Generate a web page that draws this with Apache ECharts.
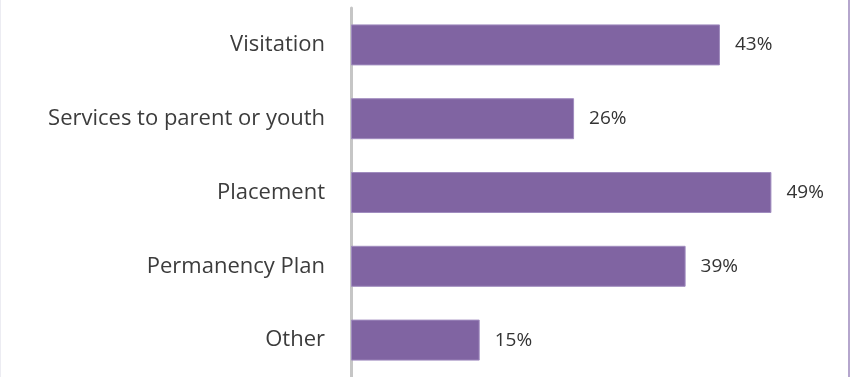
<!DOCTYPE html>
<html>
<head>
<meta charset="utf-8">
<script src="https://cdn.jsdelivr.net/npm/echarts@6/dist/echarts.min.js"></script>
<style>
  html, body { margin: 0; padding: 0; background: #ffffff; }
  #wrap { position: relative; width: 851px; height: 377px; overflow: hidden; }
  #chart { position: absolute; left: 0; top: 0; width: 851px; height: 377px; }
  #edgeL { position: absolute; left: 0; top: 0; width: 1px; height: 377px; background: #ececf2; }
  #edgeR { position: absolute; left: 848px; top: 0; width: 2px; height: 377px; background: #b5a6cd; }
</style>
</head>
<body>
<div id="wrap">
  <div id="chart"></div>
  <div id="edgeL"></div>
  <div id="edgeR"></div>
</div>
<script>
// Reasons cited, top to bottom
const categories = ['Visitation', 'Services to parent or youth', 'Placement', 'Permanency Plan', 'Other'];
const percents = [43, 26, 49, 39, 15];

const chart = echarts.init(document.getElementById('chart'), null, { renderer: 'canvas' });

chart.setOption({
  animation: false,
  grid: { left: 351, top: 8, width: 429, height: 375, containLabel: false },
  xAxis: {
    type: 'value',
    min: 0,
    max: 50,
    show: false
  },
  yAxis: {
    type: 'category',
    data: categories,
    inverse: true,
    axisLine: { show: true, lineStyle: { color: '#c6c6c6', width: 3 } },
    axisTick: { show: false },
    axisLabel: {
      margin: 26,
      color: '#3c3c3c',
      fontFamily: '"Open Sans", sans-serif',
      fontSize: 22
    }
  },
  series: [{
    type: 'bar',
    data: percents,
    barWidth: 41,
    itemStyle: { color: '#8064a2', borderColor: '#a08cbf', borderWidth: 1 },
    label: {
      show: true,
      position: 'right',
      distance: 15,
      formatter: p => p.value + '%',
      color: '#333333',
      fontFamily: '"Open Sans", sans-serif',
      fontSize: 19
    }
  }]
});
</script>
</body>
</html>
